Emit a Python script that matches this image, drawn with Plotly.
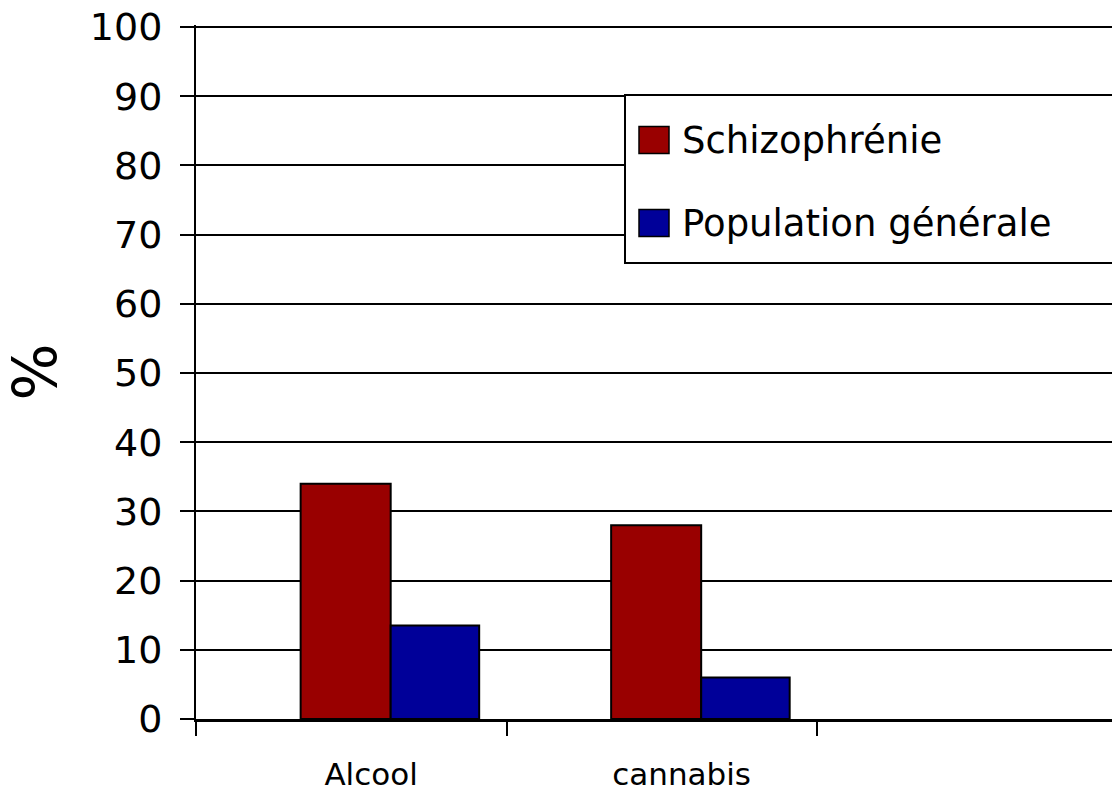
import plotly.graph_objects as go

# Substance use prevalence (%)
categories = ["Alcool", "cannabis"]
series_names = ["Schizophrénie", "Population générale"]
schizophrenie = [34, 28]
population_generale = [13.5, 6]
y_ticks = [0, 10, 20, 30, 40, 50, 60, 70, 80, 90, 100]

colors = ["#990000", "#000099"]
FONT = "DejaVu Sans"

W, H = 1112, 799
Y_TOP = 100.3            # a little headroom so the 100 gridline is drawn
L, R, B = 196, 0, 80
PX_PER_UNIT = 6.92
T = H - B - round(Y_TOP * PX_PER_UNIT)
pw, ph = W - L - R, H - T - B


def px_x(x):
    return (x - L) / pw


def px_y(y):
    return (H - B - y) / ph


xpos = list(range(len(categories)))

fig = go.Figure()
fig.add_trace(go.Bar(
    x=xpos, y=schizophrenie, name=series_names[0],
    marker=dict(color=colors[0], line=dict(color="black", width=2)),
    offset=-0.163, width=0.29, showlegend=False,
))
fig.add_trace(go.Bar(
    x=xpos, y=population_generale, name=series_names[1],
    marker=dict(color=colors[1], line=dict(color="black", width=2)),
    offset=0.127, width=0.285, showlegend=False,
))

# Legend box, clipped by the right edge of the page
fig.add_shape(type="rect", xref="paper", yref="paper",
              x0=px_x(625), x1=1.2, y0=px_y(263), y1=px_y(95),
              line=dict(color="black", width=2), fillcolor="white", layer="above")
legend_rows = [140, 223]
for name, color, yc in zip(series_names, colors, legend_rows):
    fig.add_shape(type="rect", xref="paper", yref="paper",
                  x0=px_x(639), x1=px_x(669), y0=px_y(yc + 13.5), y1=px_y(yc - 13.5),
                  line=dict(color="black", width=1.5), fillcolor=color, layer="above")
    fig.add_annotation(x=px_x(680), y=px_y(yc), xref="paper", yref="paper",
                       text=name, showarrow=False, xanchor="left", yanchor="middle",
                       font=dict(family=FONT, size=37, color="black"))

fig.update_layout(
    width=W, height=H,
    margin=dict(l=L, r=R, t=T, b=B, pad=0),
    paper_bgcolor="white", plot_bgcolor="white",
    barmode="overlay",
    font=dict(family=FONT, color="black"),
)

fig.update_yaxes(
    range=[0, Y_TOP], tickvals=y_ticks,
    showgrid=True, gridcolor="black", gridwidth=2,
    showline=True, linecolor="black", linewidth=2,
    ticks="outside", ticklen=14, tickwidth=2, tickcolor="black",
    zeroline=False, ticklabelstandoff=10,
    tickfont=dict(family=FONT, size=38, color="black"),
    title=dict(text="%", standoff=22, font=dict(family=FONT, size=60, color="black")),
)

fig.update_xaxes(
    range=[-0.5, -0.5 + pw / 310.5],
    tickvals=[x + 0.064 for x in xpos], ticktext=categories,
    ticks="", showgrid=False, zeroline=False,
    showline=True, linecolor="black", linewidth=3,
    tickfont=dict(family=FONT, size=31, color="black"),
    ticklabelstandoff=26,
    minor=dict(tickvals=[-0.5, 0.5, 1.5, 2.5], ticks="outside", ticklen=14,
               tickwidth=2, tickcolor="black", showgrid=False),
)

fig.write_html("out.html")
